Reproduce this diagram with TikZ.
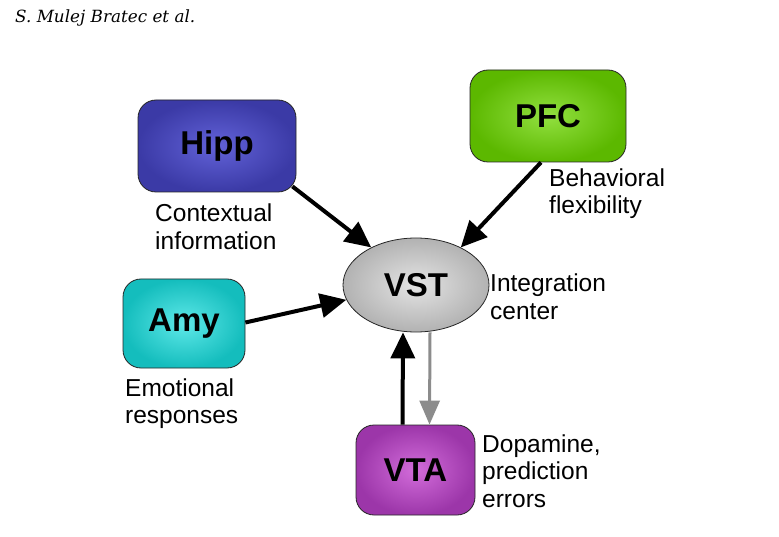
\documentclass[tikz,border=0pt]{standalone}
\usepackage{fontspec}
\setmainfont{Liberation Sans}
\newfontfamily\hdrfont{DejaVu Serif}
\usetikzlibrary{arrows.meta,shapes.geometric}
\definecolor{hippO}{HTML}{3B3AA6}
\definecolor{hippI}{HTML}{6262D8}
\definecolor{pfcO}{HTML}{5CB800}
\definecolor{pfcI}{HTML}{92E040}
\definecolor{amyO}{HTML}{14BDBD}
\definecolor{amyI}{HTML}{5EE8E8}
\definecolor{vtaO}{HTML}{9C36A9}
\definecolor{vtaI}{HTML}{D26CDA}
\definecolor{vstO}{HTML}{B2B2B2}
\definecolor{vstI}{HTML}{E4E4E4}
\definecolor{garrow}{HTML}{8C8C8C}
\begin{document}
\begin{tikzpicture}[x=1pt,y=-1pt,
  box/.style={draw=black!85, line width=0.8pt, rounded corners=18pt, inner sep=0pt,
    font=\fontsize{33}{36}\selectfont\bfseries},
  lbl/.style={font=\fontsize{24.5}{27.6}\selectfont, align=left, anchor=west, inner sep=0pt},
  arr/.style={line width=4pt, -{Triangle[length=26pt,width=24pt]}},
  garr/.style={draw=garrow, line width=3pt, -{Triangle[length=24pt,width=20pt]}, garrow}
]
\useasboundingbox (0,0) rectangle (779,537);
\node[anchor=west, inner sep=0pt, font=\hdrfont\itshape\fontsize{16.8}{19}\selectfont] (hdr) at (15,18) {S. Mulej Bratec et al.};

\node[box, minimum width=158pt, minimum height=92pt, inner color=hippI, outer color=hippO] (hipp) at (217,146) {Hipp};
\node[box, minimum width=156pt, minimum height=92pt, inner color=pfcI, outer color=pfcO] (pfc) at (548,116) {PFC};
\node[box, minimum width=122pt, minimum height=89pt, inner color=amyI, outer color=amyO] (amy) at (184,323.5) {Amy};
\node[box, minimum width=119pt, minimum height=90pt, inner color=vtaI, outer color=vtaO] (vta) at (415.5,470) {VTA};
\node[ellipse, draw=black!85, line width=0.8pt, minimum width=146pt, minimum height=94pt, inner sep=0pt,
  inner color=vstI, outer color=vstO, font=\fontsize{33}{36}\selectfont\bfseries] (vst) at (416,285) {VST};

\node[lbl] (lhipp) at (155,226.5) {Contextual\\information};
\node[lbl] (lpfc) at (549,193.5) {Behavioral\\flexibility};
\node[lbl] (lvst) at (490,296.5) {Integration\\center};
\node[lbl] (lamy) at (125,403.5) {Emotional\\responses};
\node[lbl] (lvta) at (482,471) {Dopamine,\\prediction\\errors};

\draw[arr] ([shift={(-4,-6)}]hipp.south east) -- (vst.140);
\draw[arr] ([xshift=-7pt]pfc.south) -- (vst.40);
\draw[arr] ([yshift=1pt]amy.east) -- (vst.192);
\draw[arr] ([xshift=-13pt]vta.north) -- ([xshift=-13pt]vst.south);
\draw[garr] ([xshift=14pt]vst.south) -- ([xshift=14pt]vta.north);
\end{tikzpicture}
\end{document}
